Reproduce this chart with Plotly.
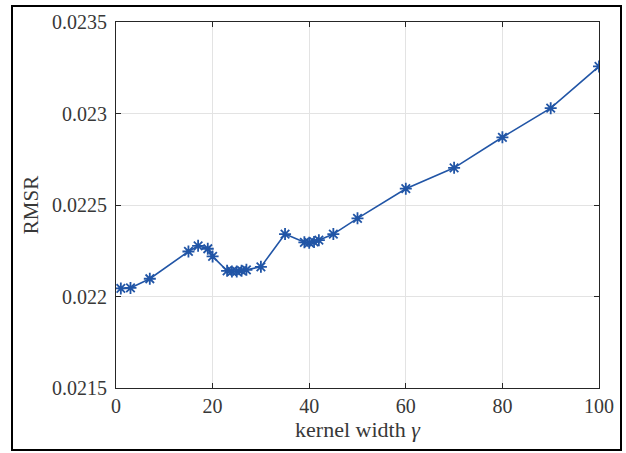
import plotly.graph_objects as go

gamma = [1, 3, 7, 15, 17, 19, 20, 23, 24, 25, 26, 27, 30, 35, 39, 40, 41, 42, 45, 50, 60, 70, 80, 90, 100]
rmsr = [0.022044, 0.022047, 0.022097, 0.022246, 0.022277, 0.022261, 0.022219,
        0.0221405, 0.022137, 0.022137, 0.022141, 0.022146, 0.022162, 0.022341,
        0.022296, 0.022294, 0.022298, 0.022308, 0.022341, 0.022427, 0.022589,
        0.022703, 0.022870, 0.023029, 0.023257]

x_ticks = [0, 20, 40, 60, 80, 100]
y_ticks = [0.0215, 0.022, 0.0225, 0.023, 0.0235]
y_tick_text = ["0.0215", "0.022", "0.0225", "0.023", "0.0235"]

blue = "#2155a6"
font = "Liberation Serif, Times New Roman, serif"
txt = "#383838"

fig = go.Figure()
fig.add_trace(go.Scatter(
    x=gamma, y=rmsr, mode="lines+markers",
    line=dict(color=blue, width=1.6),
    marker=dict(symbol="asterisk-open", size=10, line=dict(color=blue, width=1.8)),
    showlegend=False,
))

axis_common = dict(
    showline=True, linecolor="#262626", linewidth=1, mirror="ticks",
    ticks="inside", ticklen=5, tickcolor="#262626",
    showgrid=True, gridcolor="#e3e3e3", gridwidth=1,
    zeroline=False,
    tickfont=dict(family=font, size=20, color=txt),
)

fig.update_layout(
    width=626, height=453,
    margin=dict(l=116, r=27, t=22, b=65),
    paper_bgcolor="white", plot_bgcolor="white",
    font=dict(family=font, color=txt),
    xaxis=dict(range=[0, 100], tickvals=x_ticks,
               title=dict(text="kernel width <i>γ</i>", font=dict(family=font, size=22, color=txt), standoff=2),
               **axis_common),
    yaxis=dict(range=[0.0215, 0.0235], tickvals=y_ticks, ticktext=y_tick_text,
               ticklabelstandoff=4,
               title=dict(text="RMSR", font=dict(family=font, size=21, color=txt), standoff=7),
               **axis_common),
    shapes=[dict(type="rect", xref="paper", yref="paper",
                 x0=(12 - 116) / 483, x1=(621 - 116) / 483,
                 y0=(388 - 450) / 366, y1=(388 - 6) / 366,
                 line=dict(color="black", width=2), fillcolor="rgba(0,0,0,0)", layer="below")],
)

fig.write_html("out.html", config={"displayModeBar": False},
               post_script="document.body.style.margin='0';document.body.style.overflow='hidden';")
